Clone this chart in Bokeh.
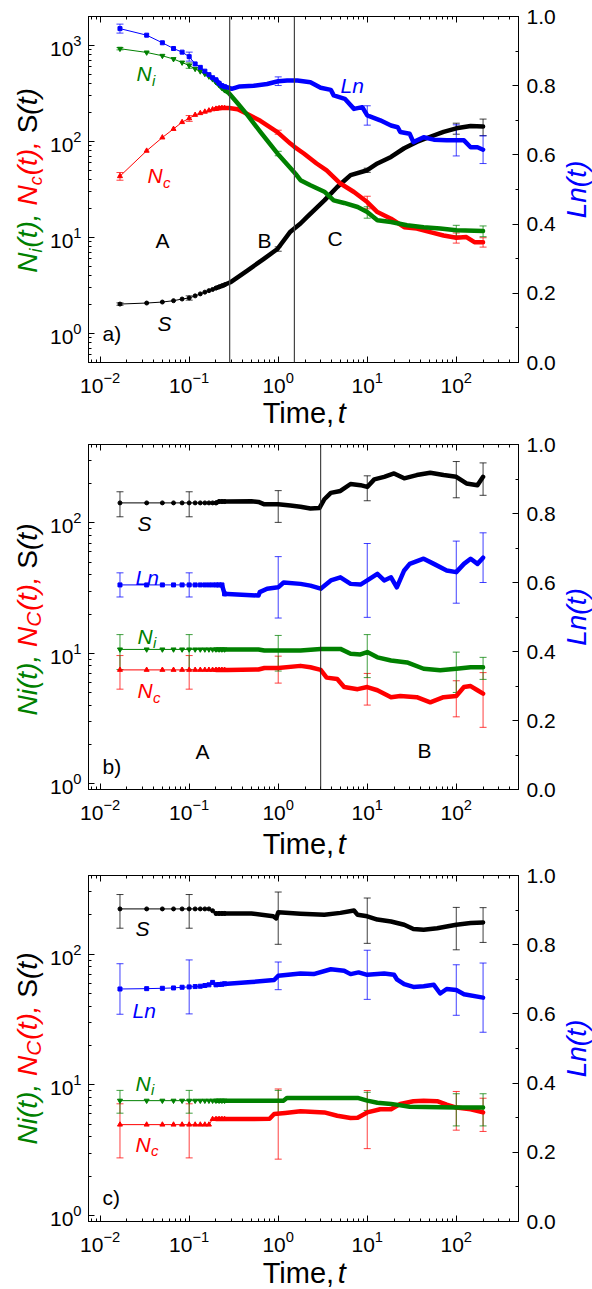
import math
from bokeh.plotting import figure
from bokeh.models import (Range1d, LinearAxis, FixedTicker, Label, Span,
                          Whisker, TeeHead, ColumnDataSource, LinearScale,
                          CustomJSTickFormatter)
from bokeh.core.properties import value
from bokeh.layouts import column, row
from bokeh.embed import file_html
from bokeh.resources import INLINE

FONT = "Liberation Sans"
GREEN = "#008000"
RED = "#ff0000"
BLUE = "#0000ff"
BLACK = "#000000"

# ---------------- data ----------------
# sparse early sampling times (t = k/60)
T_EARLY = [0.0167, 0.0333, 0.05, 0.0667, 0.0833, 0.1, 0.1167, 0.1333, 0.15,
           0.1667, 0.1833, 0.2, 0.2167, 0.2333, 0.25]
ERR_T = [0.0167, 0.1, 1.0, 10.0, 100.0, 200.0]

# panel a
A_LN_E = [0.965, 0.946, 0.924, 0.9075, 0.897, 0.884, 0.863, 0.853, 0.842, 0.832,
          0.823, 0.817, 0.807, 0.800, 0.797]
A_LN_T = [0.28, 0.3, 0.37, 0.53, 0.75, 1.0, 1.26, 1.64, 2.3, 3.0, 3.9, 4.2, 5.6, 7.1,
          8.8, 10, 14, 18.5, 22, 23.5, 30, 33, 43, 56, 78, 100, 122, 145, 173, 200]
A_LN = [0.794, 0.791, 0.798, 0.800, 0.805, 0.813, 0.815, 0.815, 0.810, 0.794, 0.788,
        0.772, 0.762, 0.733, 0.738, 0.714, 0.700, 0.685, 0.680, 0.666, 0.661, 0.637,
        0.651, 0.644, 0.642, 0.642, 0.642, 0.622, 0.622, 0.615]
A_LN_ERR_MID = [0.965, 0.884, 0.813, 0.714, 0.642, 0.615]
A_LN_ERR = [0.013, 0.013, 0.0125, 0.028, 0.045, 0.04]

A_NI_E = [924, 845, 780, 721, 664, 618, 571, 538, 506, 475, 445, 415, 388, 362, 342]
A_NI_T = [0.28, 0.35, 0.45, 0.63, 0.98, 1.37, 1.6, 1.78, 2.3, 3.3, 4.2, 5.5, 7.8, 10,
          13, 18.5, 28, 43, 66, 100, 200]
A_NI = [318, 250, 189, 126, 75, 53, 45, 39.5, 35, 30, 24.4, 22.9, 20.8, 18.4, 15.1,
        14.5, 13.4, 12.8, 12.4, 11.9, 11.7]
A_NI_ERR_MID = [924, 618, 75, 18.4, 11.9, 11.7]
A_NI_ERR = [25, 40, 4, 2.5, 1.5, 1.5]

A_NC_E = [43.5, 80, 110, 135, 159, 174, 189, 197, 204, 210, 216, 219, 222, 223, 223]
A_NC_T = [0.28, 0.35, 0.45, 0.63, 0.98, 1.37, 1.52, 1.94, 2.7, 3.5, 5, 7.1, 10, 13,
          18.5, 26, 36, 51, 72, 100, 130, 160, 200]
A_NC = [223, 216, 193, 164, 125, 95, 88, 75, 59, 50, 36.5, 29.8, 23.4, 18.4, 15.7,
        12.8, 12.4, 11.4, 10.5, 9.95, 10.1, 8.95, 8.95]
A_NC_ERR_MID = [43.5, 174, 125, 23.4, 9.95, 8.95]
A_NC_ERR = [4, 12, 6, 3.5, 1.2, 1.0]

A_S_E = [2.03, 2.08, 2.13, 2.2, 2.29, 2.35, 2.47, 2.59, 2.7, 2.8, 2.88, 2.98, 3.06,
         3.14, 3.22]
A_S_T = [0.29, 0.45, 0.69, 0.98, 1.37, 1.78, 2.1, 3.3, 4.6, 6.5, 10, 13, 18.5, 26, 36,
         51, 72, 100, 145, 200]
A_S = [3.42, 4.53, 6.0, 7.6, 11.5, 14.0, 16.3, 24.4, 33.6, 44.6, 50.2, 59, 69, 85, 99,
       112, 126, 137, 145, 143]
A_S_ERR_MID = [2.03, 2.35, 7.6, 50.2, 137, 143]
A_S_ERR = [0.06, 0.12, 0.4, 2.5, 18, 28]
A_VLINES = [0.285, 1.52]

# panel b
B_S_E = [142.5, 142.5, 142.5, 142.5, 142.5, 142.5, 142.5, 142.5, 142.5, 142.5, 142.5,
         142.5, 146, 146, 146]
B_S_T = [0.27, 0.5, 0.6, 0.7, 1.0, 1.37, 1.78, 2.3, 2.9, 3.3, 3.9, 5, 6.5, 8.4, 10, 12,
         15.5, 20, 26, 36, 51, 72, 100, 130, 173, 200]
B_S = [146, 147, 145, 139, 139, 136, 133, 129, 130, 152, 170, 176, 199, 195, 189, 216,
       226, 240, 220, 233, 243, 233, 226, 201, 195, 226]
B_S_ERR_MID = [142.5, 142.5, 139, 189, 226, 226]
B_S_ERR = [31, 31, 38, 41, 70, 63]

B_LN_E = [0.593, 0.593, 0.593, 0.593, 0.593, 0.593, 0.593, 0.593, 0.593, 0.593,
          0.593, 0.593, 0.593, 0.593, 0.567]
B_LN_T = [0.27, 0.6, 0.62, 0.75, 1.0, 1.15, 1.78, 2.3, 3.0, 3.9, 5, 6.5, 8.4, 10, 13,
          15.5, 18.5, 21.5, 26, 30, 43, 56, 78, 100, 122, 145, 173, 200]
B_LN = [0.567, 0.562, 0.572, 0.582, 0.586, 0.600, 0.596, 0.591, 0.582, 0.606, 0.615,
        0.596, 0.594, 0.606, 0.625, 0.606, 0.615, 0.586, 0.635, 0.654, 0.669, 0.654,
        0.635, 0.630, 0.654, 0.669, 0.654, 0.672]
B_LN_ERR_MID = [0.593, 0.593, 0.586, 0.606, 0.630, 0.672]
B_LN_ERR = [0.035, 0.035, 0.089, 0.107, 0.09, 0.072]

B_NI_E = [10.7, 10.7, 10.7, 10.7, 10.7, 10.7, 10.7, 10.7, 10.7, 10.7, 10.7, 10.7,
          10.7, 10.7, 10.7]
B_NI_T = [0.27, 0.6, 0.7, 1.0, 1.78, 3.0, 5, 6.5, 8.4, 10, 13, 18.5, 28, 43, 66, 100,
          145, 200]
B_NI = [10.7, 10.7, 10.5, 10.5, 10.5, 10.8, 10.8, 9.9, 9.8, 10.2, 9.3, 8.8, 8.5, 7.6,
        7.4, 7.6, 7.8, 7.8]
B_NI_ERR_MID = [10.7, 10.7, 10.5, 10.2, 7.6, 7.8]
B_NI_ERR = [3.2, 3.2, 3.2, 3.7, 2.6, 1.5]

B_NC_E = [7.45, 7.45, 7.45, 7.45, 7.45, 7.45, 7.45, 7.45, 7.45, 7.45, 7.45, 7.45,
          7.45, 7.45, 7.45]
B_NC_T = [0.27, 0.6, 0.7, 1.0, 1.78, 2.3, 3.0, 3.5, 4.6, 5.5, 7.8, 10, 13, 18.5, 23.5,
          36, 51, 72, 100, 122, 145, 173, 200]
B_NC = [7.45, 7.5, 7.7, 7.7, 8.0, 7.8, 7.45, 6.5, 6.35, 5.5, 5.3, 5.5, 5.2, 4.6, 4.7,
        4.6, 4.2, 4.6, 4.7, 5.5, 5.6, 5.2, 4.9]
B_NC_ERR_MID = [7.45, 7.45, 7.7, 5.5, 4.7, 4.9]
B_NC_ERR = [2.15, 2.15, 1.8, 1.5, 1.45, 2.2]
B_VLINES = [3.0]

# panel c
C_S_E = [222, 222, 222, 222, 222, 222, 222, 222, 222, 222, 215, 205, 205, 205, 205]
C_S_T = [0.27, 0.5, 0.88, 0.95, 1.0, 1.78, 3.3, 5, 7.1, 7.8, 10, 13, 18.5, 26, 33, 43,
         61, 78, 100, 145, 200]
C_S = [205, 205, 195, 188, 209, 204, 200, 207, 216, 200, 195, 184, 178, 168, 156, 154,
       158, 163, 168, 173, 175]
C_S_ERR_MID = [222, 222, 209, 195, 168, 175]
C_S_ERR = [64, 64, 90, 74, 60, 52]

C_LN_E = [0.672, 0.673, 0.674, 0.675, 0.677, 0.678, 0.679, 0.680, 0.682, 0.684,
          0.691, 0.684, 0.685, 0.686, 0.687]
C_LN_T = [0.27, 0.5, 0.9, 1.0, 1.78, 2.5, 3.9, 5.5, 6.5, 8, 10, 15.5, 20, 21.5, 26, 33,
          43, 56, 66, 78, 100, 122, 200]
C_LN = [0.687, 0.692, 0.698, 0.710, 0.717, 0.715, 0.729, 0.725, 0.715, 0.720, 0.713,
        0.717, 0.713, 0.700, 0.686, 0.678, 0.680, 0.684, 0.659, 0.672, 0.669, 0.657,
        0.647]
C_LN_ERR_MID = [0.672, 0.678, 0.710, 0.713, 0.669, 0.647]
C_LN_ERR = [0.073, 0.078, 0.04, 0.071, 0.073, 0.10]

C_NI_E = [7.57, 7.57, 7.57, 7.57, 7.57, 7.57, 7.57, 7.57, 7.57, 7.57, 7.57, 7.57,
          7.57, 7.57, 7.57]
C_NI_T = [0.27, 1.0, 1.15, 1.25, 7.8, 10, 13, 18.5, 30, 100, 200]
C_NI = [7.57, 7.57, 7.57, 7.94, 7.94, 7.57, 7.3, 7.15, 6.8, 6.7, 6.7]
C_NI_ERR_MID = [7.57, 7.57, 7.57, 7.57, 6.7, 6.7]
C_NI_ERR = [1.5, 1.5, 1.5, 1.2, 1.85, 1.85]

C_NC_E = [4.96, 4.96, 4.96, 4.96, 4.96, 4.96, 4.96, 4.96, 4.96, 4.96, 5.47, 5.47,
          5.47, 5.47, 5.47]
C_NC_T = [0.27, 0.8, 0.9, 1.2, 1.78, 3.3, 4.6, 6.5, 7.8, 10, 14, 18.5, 23.5, 33, 43,
          61, 78, 100, 145, 200]
C_NC = [5.47, 5.5, 5.98, 6.1, 6.27, 6.15, 5.8, 5.57, 5.6, 6.15, 6.5, 6.5, 7.15, 7.5,
        7.55, 7.5, 7.05, 6.7, 6.5, 6.15]
C_NC_ERR_MID = [4.96, 4.96, 6.0, 6.15, 6.7, 6.15]
C_NC_ERR = [2.2, 2.2, 3.3, 2.9, 2.2, 1.75]

# tick positions
X_MAJOR = [0.01, 0.1, 1, 10, 100]
X_MINOR = [m * 10.0 ** e for e in range(-3, 3) for m in range(2, 10)]
Y_MINOR = [m * 10.0 ** e for e in range(-1, 4) for m in range(2, 10)]
R_MAJOR = [0.0, 0.2, 0.4, 0.6, 0.8, 1.0]
R_MINOR = [0.1, 0.3, 0.5, 0.7, 0.9]

# approximate Arial advance widths (em) for manual rich-text layout
W = {"N": .722, "i": .222, "(": .333, ")": .333, "t": .278, ",": .278, "c": .5,
     "C": .722, "S": .667, " ": .278, "L": .556, "n": .556, "T": .611, "m": .833,
     "e": .556}
BL = 0.35        # observed shift of the rendered baseline, in em

LEFT_W = 46      # strip holding the rotated left label
RIGHT_W = 30     # strip holding the rotated right label
MAIN_W = 592 - LEFT_W - RIGHT_W
XLAB_H = 34      # strip holding the x label


def tw(s, size):
    return sum(W[ch] for ch in s) * size


def style_axis(ax):
    ax.axis_line_color = BLACK
    ax.axis_line_width = 1
    ax.major_tick_line_color = BLACK
    ax.minor_tick_line_color = BLACK
    ax.major_tick_in = 6
    ax.major_tick_out = 0
    ax.minor_tick_in = 3
    ax.minor_tick_out = 0
    ax.major_label_text_font = FONT
    ax.major_label_text_font_size = "21px"
    ax.major_label_text_color = BLACK
    ax.major_label_standoff = 7


def label(p, s, x, y, color=BLACK, size=21, style="normal"):
    p.add_layout(Label(x=x, y=y + BL * size, x_units="screen", y_units="screen",
                       text=s, text_color=color, text_font=FONT,
                       text_font_size=f"{size}px", text_font_style=style,
                       text_align="left", text_baseline="alphabetic"))


def text_fig(w, h):
    f = figure(width=w, height=h, x_range=Range1d(0, w), y_range=Range1d(0, h),
               output_backend="svg", toolbar_location=None,
               x_axis_location=None, y_axis_location=None,
               min_border_left=0, min_border_right=0, min_border_top=0,
               min_border_bottom=0)
    f.outline_line_color = None
    f.background_fill_color = "white"
    f.border_fill_color = "white"
    f.xgrid.visible = False
    f.ygrid.visible = False
    return f


def put(f, s, x, y, color=BLACK, size=21, style="normal", rotated=False,
        align="left"):
    if rotated:
        x = x - BL * size
    else:
        y = y + BL * size
    f.text(x=[x], y=[y], text=[s], angle=math.pi / 2 if rotated else 0.0,
           text_color=color, text_font=value(FONT),
           text_font_size=value(f"{size}px"), text_font_style=value(style),
           text_align=value(align), text_baseline=value("alphabetic"))


def series(p, t_e, v_e, t_l, v_l, color, marker, size, rname="default"):
    t_all = t_e + t_l
    v_all = v_e + v_l
    p.line(t_all, v_all, line_color=color, line_width=1, y_range_name=rname)
    p.scatter(t_e, v_e, marker=marker, size=size, fill_color=color, line_color=color,
              y_range_name=rname)
    tt = [t for t in t_all if t >= 0.2]
    vv = [v for t, v in zip(t_all, v_all) if t >= 0.2]
    p.line(tt, vv, line_color=color, line_width=4.5, line_join="round",
           line_cap="round", y_range_name=rname)


def errbars(p, mids, errs, color, rname="default"):
    src = ColumnDataSource(dict(base=ERR_T,
                                lower=[m - e for m, e in zip(mids, errs)],
                                upper=[m + e for m, e in zip(mids, errs)]))
    p.add_layout(Whisker(source=src, base="base", lower="lower", upper="upper",
                         dimension="height", line_color=color, line_alpha=0.75,
                         line_width=1, y_range_name=rname,
                         upper_head=TeeHead(size=7, line_color=color, line_alpha=0.75,
                                            line_width=1),
                         lower_head=TeeHead(size=7, line_color=color, line_alpha=0.75,
                                            line_width=1)))


def make_panel(h, top, fh, yr, ymaj, ylabel_pieces, ycenter_from_top, xlab_base):
    main_h = h - XLAB_H
    bottom = main_h - top - fh
    p = figure(width=MAIN_W, height=main_h, x_axis_type="log", y_axis_type="log",
               x_range=Range1d(0.0074, 500), y_range=Range1d(*yr),
               output_backend="svg", toolbar_location=None,
               min_border_left=88 - LEFT_W, min_border_right=592 - RIGHT_W - 518,
               min_border_top=top, min_border_bottom=bottom)
    p.extra_y_ranges = {"ln": Range1d(0, 1)}
    p.extra_y_scales = {"ln": LinearScale()}
    p.xgrid.visible = False
    p.ygrid.visible = False
    p.outline_line_color = BLACK
    p.background_fill_color = "white"
    p.border_fill_color = "white"

    xb = p.below[0]
    xb.ticker = FixedTicker(ticks=X_MAJOR, minor_ticks=X_MINOR)
    style_axis(xb)
    xb.major_label_standoff = 9
    yl = p.left[0]
    yl.ticker = FixedTicker(ticks=ymaj, minor_ticks=Y_MINOR)
    style_axis(yl)

    xt = LinearAxis(ticker=FixedTicker(ticks=X_MAJOR, minor_ticks=X_MINOR),
                    formatter=CustomJSTickFormatter(code="return '';"))
    style_axis(xt)
    xt.major_label_text_font_size = "1px"
    xt.major_label_text_alpha = 0
    xt.major_label_standoff = 0
    p.add_layout(xt, "above")

    yr_ax = LinearAxis(y_range_name="ln",
                       ticker=FixedTicker(ticks=R_MAJOR, minor_ticks=R_MINOR),
                       formatter=CustomJSTickFormatter(code="return tick.toFixed(1);"))
    style_axis(yr_ax)
    yr_ax.major_label_standoff = 8
    p.add_layout(yr_ax, "right")

    # left strip: rotated multicolour y label (baseline at x = 37)
    lf = text_fig(LEFT_W, h)
    total = sum(tw(s, sz) + gap for s, col, sz, st, off, gap in ylabel_pieces)
    y = (h - ycenter_from_top) - total / 2
    for s, col, sz, st, off, gap in ylabel_pieces:
        put(lf, s, 37 + off, y, col, sz, st, rotated=True)
        y += tw(s, sz) + gap

    # right strip: rotated Ln(t) (baseline at x = 586)
    rf = text_fig(RIGHT_W, h)
    put(rf, "Ln(t)", 586 - (592 - RIGHT_W), h - (top + fh / 2), BLUE, 28, "italic",
        rotated=True, align="center")

    # bottom strip: x label
    xf = text_fig(MAIN_W, XLAB_H)
    base_y = h - xlab_base
    put(xf, "Time,", 255 - LEFT_W, base_y, BLACK, 29)
    put(xf, "t", 345 - LEFT_W, base_y, BLACK, 29, "italic")

    return p, row(lf, column(p, xf, spacing=0), rf, spacing=0)


SP = 7.8
PIECES_A = [("N", GREEN, 28, "italic", 0, 0), ("i", GREEN, 18, "italic", 5, 1),
            ("(t),", GREEN, 28, "italic", 0, SP), ("N", RED, 28, "italic", 0, 0),
            ("c", RED, 18, "italic", 5, 1), ("(t),", RED, 28, "italic", 0, SP),
            ("S", BLACK, 28, "normal", 0, 0), ("(t)", BLACK, 28, "italic", 0, 0)]
PIECES_BC = [("Ni(t),", GREEN, 28, "italic", 0, SP), ("N", RED, 28, "italic", 0, 0),
             ("C", RED, 21, "italic", 3, 1), ("(t),", RED, 28, "italic", 0, SP),
             ("S", BLACK, 28, "normal", 0, 0), ("(t)", BLACK, 28, "italic", 0, 0)]

# ---------- panel a ----------
pa, panel_a = make_panel(430, 16, 346, (0.5, 2000), [1, 10, 100, 1000], PIECES_A,
                         180, 423)
series(pa, T_EARLY, A_S_E, A_S_T, A_S, BLACK, "circle", 4)
series(pa, T_EARLY, A_NC_E, A_NC_T, A_NC, RED, "triangle", 5)
series(pa, T_EARLY, A_NI_E, A_NI_T, A_NI, GREEN, "inverted_triangle", 5)
series(pa, T_EARLY, A_LN_E, A_LN_T, A_LN, BLUE, "square", 4, "ln")
errbars(pa, A_S_ERR_MID, A_S_ERR, BLACK)
errbars(pa, A_NC_ERR_MID, A_NC_ERR, RED)
errbars(pa, A_NI_ERR_MID, A_NI_ERR, GREEN)
errbars(pa, A_LN_ERR_MID, A_LN_ERR, BLUE, "ln")
for v in A_VLINES:
    pa.add_layout(Span(location=v, dimension="height", line_color="#444444",
                       line_width=1.2))
label(pa, "N", 48, 282, GREEN, 21, "italic")
label(pa, "i", 63.5, 277, GREEN, 15, "italic")
label(pa, "N", 59, 180, RED, 21, "italic")
label(pa, "c", 74.5, 175, RED, 15, "italic")
label(pa, "S", 69, 32, BLACK, 21, "italic")
label(pa, "Ln", 252, 270, BLUE, 21, "italic")
label(pa, "A", 67, 115)
label(pa, "B", 169, 115)
label(pa, "C", 239, 117)
label(pa, "a)", 14, 22)

# ---------- panel b ----------
pb, panel_b = make_panel(430, 14, 345, (0.9, 400), [1, 10, 100], PIECES_BC,
                         189, 424)
series(pb, T_EARLY, B_S_E, B_S_T, B_S, BLACK, "circle", 4)
series(pb, T_EARLY, B_NC_E, B_NC_T, B_NC, RED, "triangle", 5)
series(pb, T_EARLY, B_NI_E, B_NI_T, B_NI, GREEN, "inverted_triangle", 5)
series(pb, T_EARLY, B_LN_E, B_LN_T, B_LN, BLUE, "square", 4, "ln")
errbars(pb, B_S_ERR_MID, B_S_ERR, BLACK)
errbars(pb, B_NC_ERR_MID, B_NC_ERR, RED)
errbars(pb, B_NI_ERR_MID, B_NI_ERR, GREEN)
errbars(pb, B_LN_ERR_MID, B_LN_ERR, BLUE, "ln")
for v in B_VLINES:
    pb.add_layout(Span(location=v, dimension="height", line_color="#222222",
                       line_width=1))
label(pb, "S", 49, 259, BLACK, 21, "italic")
label(pb, "Ln", 47, 205, BLUE, 21, "italic")
label(pb, "N", 49, 146, GREEN, 21, "italic")
label(pb, "i", 64.5, 142, GREEN, 15, "italic")
label(pb, "N", 49, 92, RED, 21, "italic")
label(pb, "c", 64.5, 87, RED, 15, "italic")
label(pb, "A", 107, 31)
label(pb, "B", 329, 32)
label(pb, "b)", 14, 16)

# ---------- panel c ----------
pc, panel_c = make_panel(429, 15, 346, (0.9, 400), [1, 10, 100], PIECES_BC,
                         188, 423)
series(pc, T_EARLY, C_S_E, C_S_T, C_S, BLACK, "circle", 4)
series(pc, T_EARLY, C_NC_E, C_NC_T, C_NC, RED, "triangle", 5)
series(pc, T_EARLY, C_NI_E, C_NI_T, C_NI, GREEN, "inverted_triangle", 5)
series(pc, T_EARLY, C_LN_E, C_LN_T, C_LN, BLUE, "square", 4, "ln")
errbars(pc, C_S_ERR_MID, C_S_ERR, BLACK)
errbars(pc, C_NC_ERR_MID, C_NC_ERR, RED)
errbars(pc, C_NI_ERR_MID, C_NI_ERR, GREEN)
errbars(pc, C_LN_ERR_MID, C_LN_ERR, BLUE, "ln")
label(pc, "S", 47, 286, BLACK, 21, "italic")
label(pc, "Ln", 44, 204, BLUE, 21, "italic")
label(pc, "N", 47, 131, GREEN, 21, "italic")
label(pc, "i", 62.5, 127, GREEN, 15, "italic")
label(pc, "N", 47, 70, RED, 21, "italic")
label(pc, "c", 62.5, 66, RED, 15, "italic")
label(pc, "c)", 14, 17)

layout = column(panel_a, panel_b, panel_c, spacing=0)
open("out.html", "w").write(file_html(layout, INLINE))
